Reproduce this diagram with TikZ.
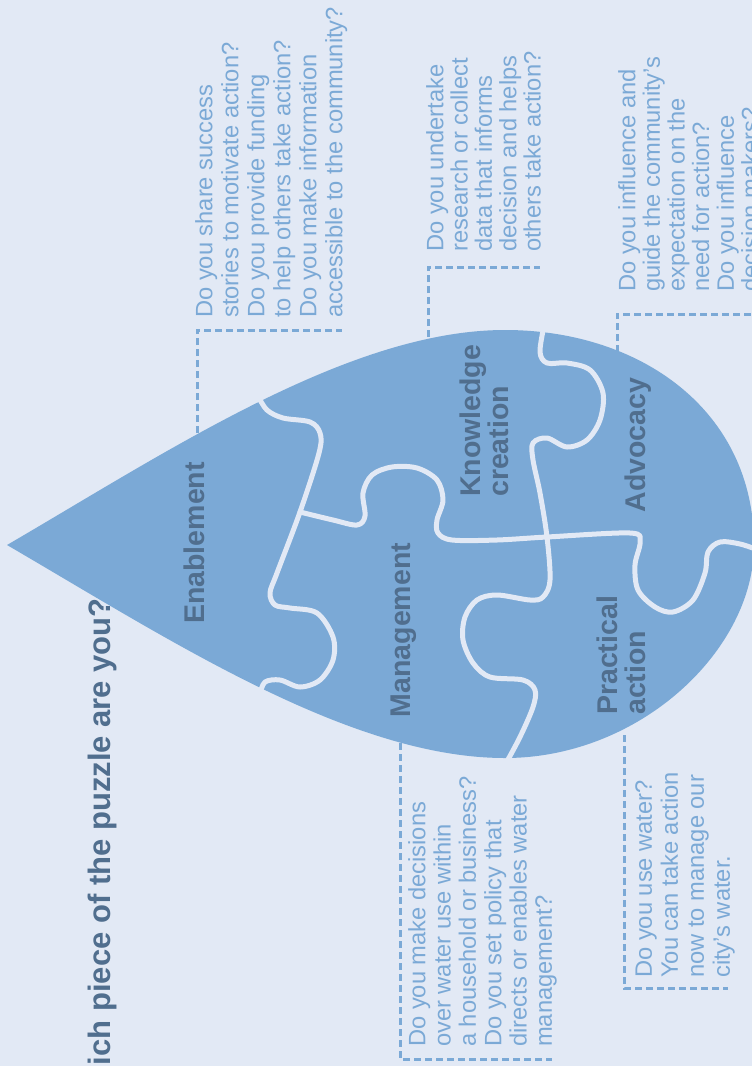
\documentclass[tikz,border=0pt]{standalone}
\usepackage{fontspec}
\setmainfont{Liberation Sans}
\usetikzlibrary{positioning}
\definecolor{paper}{HTML}{E2E9F5}
\definecolor{drop}{HTML}{7BA9D6}
\definecolor{slate}{HTML}{506E8E}

\begin{document}
\begin{tikzpicture}[x = 1pt, y = -1pt,
  piece/.style = {draw = paper, line width = 5pt, line cap = round, line join = round},
  label/.style = {rotate = 90, text = slate, inner sep = 0pt, align = left, font = \fontsize{28.5}{28}\selectfont\bfseries},
  ask/.style = {rotate = 90, text = drop, inner sep = 0pt, align = left, anchor = north west},
  guide/.style = {draw = drop, line width = 3pt, dash pattern = on 7pt off 4pt}]
\fill[paper] (0,0) rectangle (752,1066);
\useasboundingbox (0,0) rectangle (752,1066);

\fill[drop] (7,545) .. controls (170,450) and (350,330) .. (505,330)
  .. controls (640,330) and (754,410) .. (754,545)
  .. controls (754,650) and (640,758) .. (505,758)
  .. controls (350,758) and (170,640) .. (7,545) -- cycle;

\draw[piece] plot[smooth, tension = 0.55] coordinates {(258,396) (267,410) (283,418) (310,422) (320,433) (319,453) (300,512) (277,573) (270,593) (275,605) (290,608) (317,613) (333,637) (333,660) (320,680) (300,687) (280,680) (265,682) (260,694)};
\draw[piece] plot[smooth, tension = 0.55] coordinates {(300,512) (333,520) (357,525) (365,516) (363,493) (372,475) (392,467) (417,468) (437,480) (443,500) (437,520) (438,533) (452,540) (497,540) (547,537) (630,533) (640,542) (635,565) (638,590) (655,607) (673,612) (693,600) (705,573) (708,552) (720,542) (740,544) (758,550)};
\draw[piece] plot[smooth, tension = 0.55] coordinates {(544,326) (540,352) (547,363) (567,363) (590,370) (603,393) (600,420) (587,440) (567,447) (547,438) (533,443) (533,460) (540,493) (547,537) (550,580) (543,597) (530,600) (497,595) (477,600) (465,617) (463,640) (473,663) (490,677) (523,680) (535,690) (533,707) (520,737) (505,765)};

\node[label, anchor = base] (10) at (204,543) {Enablement};
\node[label, anchor = base] (11) at (410,630) {Management};
\node[label, anchor = north west] (12) at (459.6,497) {Knowledge\\creation};
\node[label, anchor = base] (13) at (645,445) {Advocacy};
\node[label, anchor = north west] (14) at (596.6,715) {Practical\\action};
\node[label, anchor = base east, font = \fontsize{31}{31}\selectfont\bfseries] (1) at (110,598) {ich piece of the puzzle are you?};

\node[ask, font = \fontsize{23.7}{26}\selectfont] (20) at (195,318) {Do you share success\\stories to motivate action?\\Do you provide funding\\to help others take action?\\Do you make information\\accessible to the community?};
\node[ask, font = \fontsize{23.7}{24.3}\selectfont] (21) at (426,252) {Do you undertake\\research or collect\\data that informs\\decision and helps\\others take action?};
\node[ask, font = \fontsize{23.7}{24.6}\selectfont] (22) at (618,292) {Do you influence and\\guide the community's\\expectation on the\\need for action?\\Do you influence\\decision makers?};
\node[ask, font = \fontsize{23.7}{25.3}\selectfont] (23) at (408,1047) {Do you make decisions\\over water use within\\a household or business?\\Do you set policy that\\directs or enables water\\management?};
\node[ask, font = \fontsize{23.7}{26}\selectfont] (24) at (635,978) {Do you use water?\\You can take action\\now to manage our\\city's water.};

\coordinate (30) at (197,433);
\coordinate (40) at (342,330);
\coordinate (31) at (428,337);
\coordinate (41) at (540,267);
\coordinate (32) at (617,352);
\coordinate (42) at (760,314);
\coordinate (33) at (400,743);
\coordinate (43) at (552,1059);
\coordinate (34) at (624,735);
\coordinate (44) at (728,988);
\begin{scope}[guide]
\draw (30) |- (40);
\draw (31) |- (41);
\draw (32) |- (42);
\draw (33) |- (43);
\draw (34) |- (44);
\end{scope}
\end{tikzpicture}
\end{document}
